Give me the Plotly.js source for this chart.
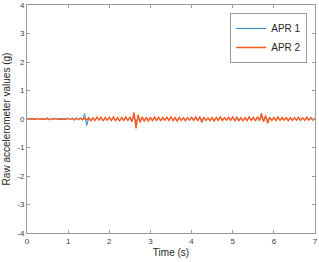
<!DOCTYPE html>
<html>
<head>
<meta charset="utf-8">
<script src="https://cdn.plot.ly/plotly-3.0.1.min.js"></script>
<style>html,body{margin:0;padding:0;background:#fff;}#chart{width:319px;height:262px;}</style>
</head>
<body>
<div id="chart"></div>
<script>
// Sampled every 0.05 s from 0 to 7 s
var t0 = 0;
var dt = 0.05;
var seriesNames = ["APR 1", "APR 2"];
var apr1 = [
  0.01,-0.01,0.02,-0.01,0.0,0.01,-0.02,0.01,0.0,-0.01,
  0.05,-0.04,0.02,-0.01,0.01,0.0,-0.02,0.02,-0.01,0.01,
  0.03,-0.03,0.04,-0.02,0.05,-0.04,0.03,-0.05,0.19,-0.23,
  0.03,-0.04,0.02,-0.03,0.04,-0.02,0.03,-0.04,0.02,-0.03,
  0.04,-0.05,0.03,-0.02,0.05,-0.04,0.02,-0.03,0.04,-0.05,
  0.03,-0.06,0.08,-0.1,0.05,-0.03,0.04,-0.05,0.03,-0.02,
  0.04,-0.06,0.03,-0.04,0.05,-0.03,0.02,-0.04,0.03,-0.02,
  0.05,-0.03,0.04,-0.05,0.02,-0.03,0.04,-0.02,0.03,-0.04,
  0.05,-0.04,0.03,-0.06,0.04,-0.03,0.05,-0.04,0.02,-0.03,
  0.04,-0.05,0.03,-0.02,0.06,-0.04,0.03,-0.05,0.04,-0.03,
  0.05,-0.06,0.08,-0.04,0.03,-0.05,0.04,-0.03,0.05,-0.04,
  0.03,-0.05,0.06,-0.04,0.07,-0.06,0.04,-0.03,0.05,-0.04,
  0.03,-0.04,0.05,-0.03,0.02,-0.04,0.06,-0.03,0.04,-0.02,
  0.03,-0.04,0.02,-0.03,0.04,-0.02,0.03,-0.03,0.02,-0.02,0.01
];
var apr2 = [
  0.0,0.01,-0.01,0.01,-0.01,0.02,-0.01,0.0,0.01,-0.01,
  0.01,-0.02,0.01,-0.01,0.02,-0.01,0.01,-0.02,0.01,-0.01,
  0.02,-0.02,0.01,-0.03,0.02,-0.01,0.03,-0.02,0.02,-0.03,
  0.05,-0.06,0.04,-0.05,0.07,-0.04,0.06,-0.07,0.05,-0.04,
  0.06,-0.05,0.07,-0.06,0.05,-0.08,0.06,-0.05,0.07,-0.06,
  0.08,-0.1,0.23,-0.33,0.15,-0.12,0.08,-0.09,0.06,-0.07,
  0.05,-0.06,0.07,-0.05,0.06,-0.07,0.05,-0.04,0.06,-0.05,
  0.07,-0.06,0.05,-0.07,0.06,-0.05,0.04,-0.06,0.05,-0.04,
  0.06,-0.05,0.07,-0.06,0.09,-0.12,0.06,-0.05,0.04,-0.06,
  0.05,-0.07,0.06,-0.05,0.07,-0.06,0.05,-0.04,0.06,-0.05,
  0.07,-0.06,0.05,-0.07,0.06,-0.08,0.05,-0.06,0.07,-0.05,
  0.06,-0.07,0.08,-0.06,0.2,-0.1,0.12,-0.15,0.06,-0.05,
  0.05,-0.06,0.07,-0.05,0.06,-0.04,0.05,-0.06,0.04,-0.05,
  0.05,-0.04,0.06,-0.05,0.04,-0.05,0.06,-0.04,0.05,-0.04,0.03
];
var xTicks = [0,1,2,3,4,5,6,7];
var yTicks = [-4,-3,-2,-1,0,1,2,3,4];

var FONT = 'Liberation Sans, Arial, sans-serif';
var traces = [
  {y: apr1, x0: t0, dx: dt, type: 'scatter', mode: 'lines', name: seriesNames[0],
   line: {color: '#2A86D0', width: 1}},
  {y: apr2, x0: t0, dx: dt, type: 'scatter', mode: 'lines', name: seriesNames[1],
   line: {color: '#FA5A1E', width: 1.4}}
];
var axisCommon = {
  showgrid: false, zeroline: false, showline: true, linecolor: '#9a9a9a', linewidth: 1,
  mirror: 'ticks', ticks: 'inside', ticklen: 3, tickcolor: '#9a9a9a',
  tickfont: {family: FONT, size: 8, color: '#404040'}
};
var layout = {
  width: 319, height: 262,
  margin: {l: 27, r: 4, t: 5, b: 29},
  paper_bgcolor: '#fff', plot_bgcolor: '#fff',
  showlegend: true,
  xaxis: Object.assign({}, axisCommon, {
    range: [0, 7], tickvals: xTicks, ticktext: xTicks.map(String),
    title: {text: 'Time (s)', standoff: 4, font: {family: FONT, size: 10, color: '#262626'}}
  }),
  yaxis: Object.assign({}, axisCommon, {
    range: [-4, 4], tickvals: yTicks, ticktext: yTicks.map(String),
    title: {text: 'Raw accelerometer values (g)', standoff: 4, font: {family: FONT, size: 10, color: '#262626'}}
  }),
  legend: {
    x: 0.973, y: 0.965, xanchor: 'right', yanchor: 'top',
    bgcolor: '#fff', bordercolor: '#9a9a9a', borderwidth: 1,
    itemwidth: 30, tracegroupgap: 0,
    font: {family: FONT, size: 10, color: '#262626'}
  }
};
Plotly.newPlot('chart', traces, layout, {displayModeBar: false, staticPlot: true});
</script>
</body>
</html>
